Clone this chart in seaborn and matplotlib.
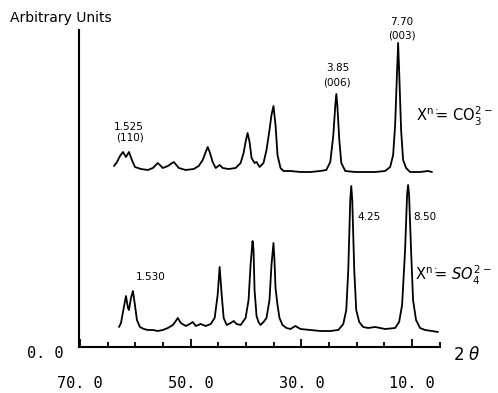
import matplotlib
matplotlib.use("Agg")
import matplotlib.pyplot as plt
import seaborn as sns
import pandas as pd
from matplotlib.ticker import FixedLocator, MultipleLocator

# Upper trace: X = CO3(2-)
two_theta_co3 = [63.87, 63.33, 62.79, 62.25, 61.71, 61.17, 60.63, 60.09, 59.01, 57.75,
                 56.85, 55.95, 55.05, 54.14, 53.06, 52.16, 50.90, 49.46, 48.56, 47.84,
                 47.30, 46.94, 46.58, 46.04, 45.50, 44.78, 44.23, 43.15, 41.89, 40.99,
                 40.45, 40.09, 39.73, 39.37, 39.01, 38.47, 38.11, 37.57, 36.85, 36.31,
                 35.77, 35.41, 35.05, 34.68, 34.32, 33.78, 33.24, 31.98, 30.18, 28.38,
                 26.58, 25.50, 24.78, 24.23, 23.87, 23.69, 23.51, 23.15, 22.79, 22.07,
                 20.27, 18.47, 16.67, 14.87, 13.96, 13.42, 13.06, 12.70, 12.52, 12.34,
                 11.98, 11.62, 11.08, 10.36, 8.56, 7.12, 6.40]
intensity_co3 = [181, 185, 191, 195, 190, 195, 187, 180, 178, 177,
                 179, 184, 179, 181, 185, 179, 177, 178, 181, 187,
                 195, 200, 195, 185, 179, 182, 179, 178, 179, 184,
                 194, 205, 214, 205, 189, 184, 185, 180, 184, 197,
                 217, 232, 241, 222, 192, 179, 176, 176, 175, 175,
                 176, 177, 185, 212, 242, 253, 242, 207, 184, 176,
                 175, 175, 175, 176, 180, 192, 222, 277, 304, 277,
                 217, 187, 179, 175, 175, 176, 175]

# Lower trace: X = SO4(2-)
two_theta_so4 = [62.97, 62.61, 62.25, 61.71, 61.35, 61.17, 60.81, 60.45, 60.09, 59.73,
                 59.19, 58.47, 57.75, 56.85, 55.95, 55.05, 54.14, 53.24, 52.70, 52.34,
                 51.80, 50.90, 50.18, 49.64, 49.10, 48.20, 47.30, 46.40, 45.68, 45.14,
                 44.78, 44.41, 44.05, 43.51, 42.79, 42.25, 41.71, 40.99, 40.09, 39.55,
                 39.19, 38.83, 38.65, 38.47, 38.11, 37.75, 37.39, 36.85, 36.31, 35.77,
                 35.41, 35.05, 34.87, 34.68, 34.32, 33.96, 33.42, 32.70, 31.98, 31.08,
                 30.18, 28.38, 26.58, 24.78, 23.33, 22.43, 21.89, 21.53, 21.17, 20.99,
                 20.81, 20.45, 20.09, 19.55, 18.83, 17.93, 16.67, 14.87, 13.06, 12.34,
                 11.80, 11.26, 10.90, 10.72, 10.54, 10.18, 9.82, 9.28, 8.56, 7.66,
                 6.40, 5.32]
intensity_so4 = [20, 24, 35, 51, 39, 37, 49, 56, 42, 27,
                 20, 18, 17, 17, 16, 17, 19, 22, 26, 29,
                 24, 21, 23, 25, 21, 23, 21, 23, 29, 52,
                 80, 52, 29, 22, 24, 26, 23, 22, 29, 47,
                 82, 106, 97, 57, 31, 25, 22, 25, 29, 47,
                 82, 104, 87, 59, 42, 29, 22, 19, 18, 21,
                 18, 17, 16, 16, 17, 23, 37, 77, 147, 161,
                 147, 77, 37, 25, 20, 19, 20, 18, 19, 25,
                 42, 97, 152, 162, 152, 97, 47, 27, 19, 17,
                 16, 15]

major_ticks = [70, 50, 30, 10]
major_labels = ["70. 0", "50. 0", "30. 0", "10. 0"]

sns.set_theme(style="ticks")
plt.rcParams['font.family'] = ['DejaVu Sans']
plt.rcParams['mathtext.fontset'] = 'dejavusans'

fig = plt.figure(figsize=(4.98, 3.93), dpi=100)
ax = fig.add_axes([79 / 498, 1 - 347 / 393, 361 / 498, 317 / 393])

df_co3 = pd.DataFrame({"two_theta": two_theta_co3, "intensity": intensity_co3})
df_so4 = pd.DataFrame({"two_theta": two_theta_so4, "intensity": intensity_so4})
sns.lineplot(data=df_co3, x="two_theta", y="intensity", color="black", lw=1.3, ax=ax)
sns.lineplot(data=df_so4, x="two_theta", y="intensity", color="black", lw=1.3, ax=ax)

ax.set_xlim(70.2, 4.95)
ax.set_ylim(0, 317)
ax.set_xlabel("")
ax.set_ylabel("")
ax.set_yticks([])
for s in ["top", "right"]:
    ax.spines[s].set_visible(False)
for s in ["left", "bottom"]:
    ax.spines[s].set_linewidth(1.5)
    ax.spines[s].set_color("black")

ax.xaxis.set_major_locator(FixedLocator(major_ticks))
ax.xaxis.set_minor_locator(MultipleLocator(5))
ax.set_xticklabels(major_labels, family="DejaVu Sans Mono", fontsize=11)
ax.tick_params(axis="x", which="major", direction="in", length=6, width=1.3,
               pad=21, colors="black")
ax.tick_params(axis="x", which="minor", direction="in", length=3.5, width=1.3,
               colors="black")

small = dict(fontsize=7.5, ha="center", va="center", color="black",
             family=["Liberation Sans Narrow", "DejaVu Sans"], clip_on=False)
ax.text(11.80, 325, "7.70", **small)
ax.text(11.80, 311, "(003)", **small)
ax.text(23.51, 279, "3.85", **small)
ax.text(23.51, 264, "(006)", **small)
ax.text(61.17, 220, "1.525", **small)
ax.text(61.00, 209, "(110)", **small)
ax.text(57.20, 70, "1.530", **small)
ax.text(17.75, 130, "4.25", **small)
ax.text(7.66, 130, "8.50", **small)

big = dict(fontsize=10.5, ha="left", va="center", color="black", clip_on=False)
ax.text(9.3, 231, r"X$^{\mathrm{n:}}\!\!$= CO$_3^{2-}$", **big)
ax.text(9.5, 72, r"X$^{\mathrm{n:}}\!\!$= $SO_4^{2-}$", **big)

fig.text(10 / 498, 1 - 18 / 393, "Arbitrary Units", fontsize=10, ha="left",
         va="center", color="black")
fig.text(45 / 498, 1 - 353 / 393, "0. 0", fontsize=11, family="DejaVu Sans Mono",
         ha="center", va="center", color="black")
fig.text(467 / 498, 1 - 355 / 393, r"2 $\theta$", fontsize=12, ha="center",
         va="center", color="black")

fig.savefig("out.png", dpi=100)
